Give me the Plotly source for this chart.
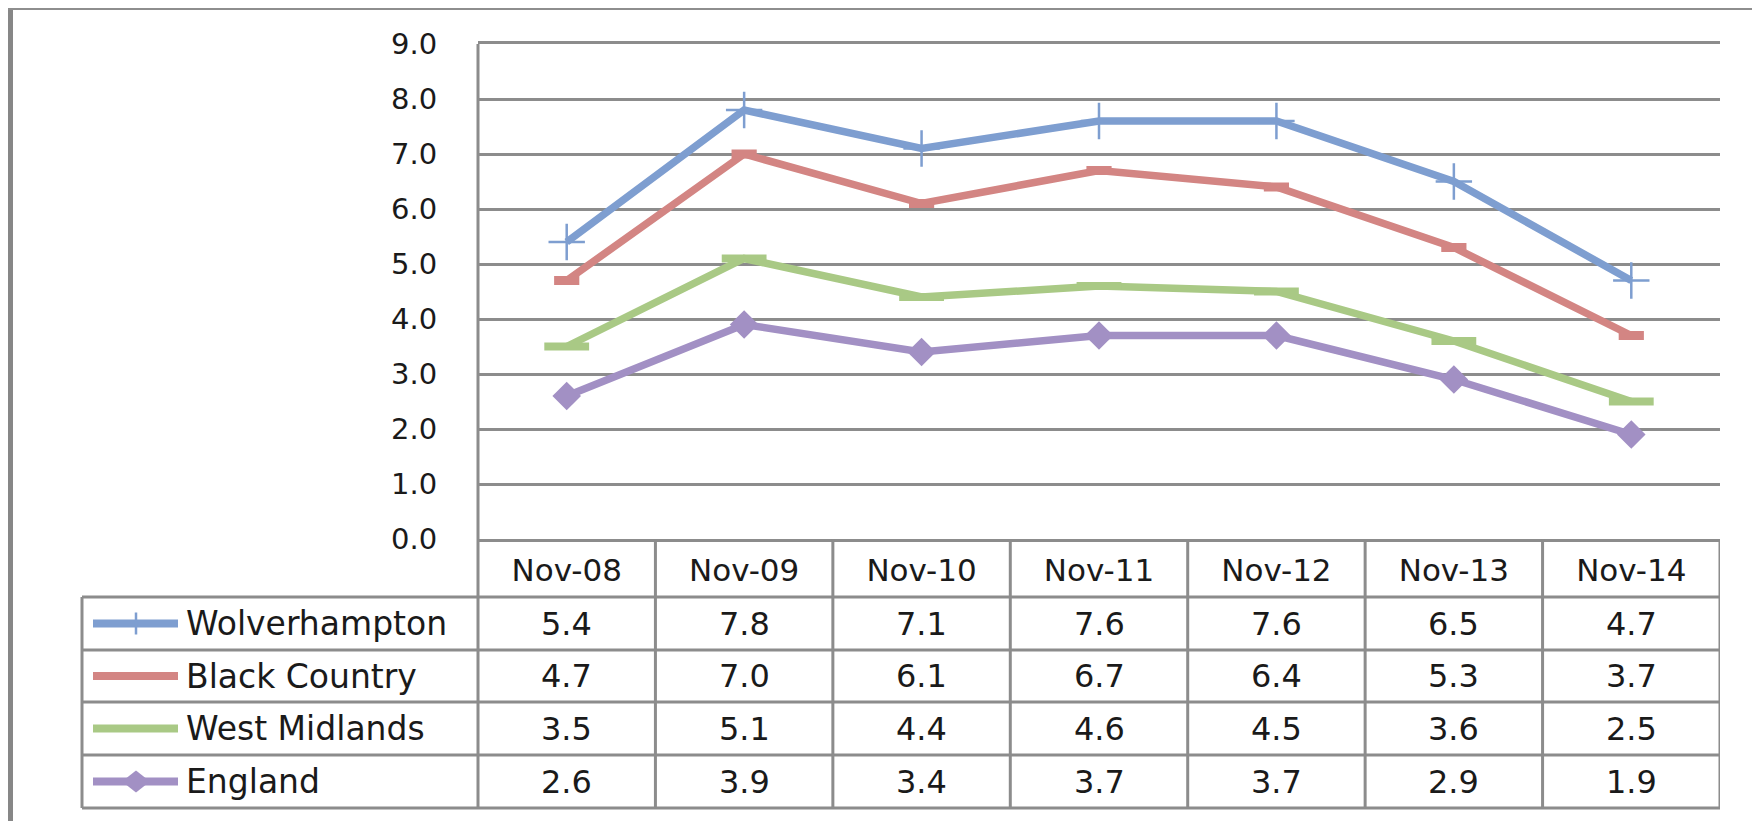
import plotly.graph_objects as go

# ---------------- data ----------------
categories = ["Nov-08", "Nov-09", "Nov-10", "Nov-11", "Nov-12", "Nov-13", "Nov-14"]
series_names = ["Wolverhampton", "Black Country", "West Midlands", "England"]
wolverhampton = [5.4, 7.8, 7.1, 7.6, 7.6, 6.5, 4.7]
black_country = [4.7, 7.0, 6.1, 6.7, 6.4, 5.3, 3.7]
west_midlands = [3.5, 5.1, 4.4, 4.6, 4.5, 3.6, 2.5]
england = [2.6, 3.9, 3.4, 3.7, 3.7, 2.9, 1.9]
y_ticks = [0, 1, 2, 3, 4, 5, 6, 7, 8, 9]

series_values = [wolverhampton, black_country, west_midlands, england]
colors = ["#7E9ED0", "#D38583", "#A9C985", "#A290C4"]

# ---------------- geometry helpers ----------------
# page has an 8px body margin: figure is placed at (8, 8) in the window
OFF = 8
W, H = 1760 - OFF, 821 - OFF
GRID = "#8C8C8C"
TXT = "#1A1A1A"
FONT = "DejaVu Sans"


def px(x):
    return (x - OFF) / W


def py(y):
    return 1 - (y - OFF) / H


plot_left, plot_right = 478, 1720
plot_top, plot_bottom = 44, 539
row_lines = [597, 650, 702, 755, 808]
legend_left = 82

fig = go.Figure()

marker_specs = [
    dict(symbol="cross-thin", size=26, line=dict(width=2.5, color=colors[0])),
    dict(symbol="line-ew", size=18, line=dict(width=9, color=colors[1])),
    dict(symbol="line-ew", size=32, line=dict(width=8, color=colors[2])),
    dict(symbol="diamond", size=22, color=colors[3], line=dict(width=0)),
]

for name, vals, col, mk in zip(series_names, series_values, colors, marker_specs):
    m = dict(mk)
    if "color" not in m:
        m["color"] = col
    fig.add_trace(go.Scatter(
        x=categories, y=vals, name=name, mode="lines+markers",
        line=dict(color=col, width=7.5), marker=m, cliponaxis=False,
        showlegend=False,
    ))

shapes = []
annotations = []

# outer frame
shapes.append(dict(type="line", xref="paper", yref="paper", x0=px(10.5), x1=px(10.5),
                   y0=py(7), y1=py(830), line=dict(color="#878787", width=5)))
shapes.append(dict(type="line", xref="paper", yref="paper", x0=px(8), x1=px(1770),
                   y0=py(8.5), y1=py(8.5), line=dict(color="#8E8E8E", width=3)))

# table rows
for yl in row_lines:
    shapes.append(dict(type="line", xref="paper", yref="paper",
                       x0=px(legend_left), x1=px(plot_right),
                       y0=py(yl), y1=py(yl), line=dict(color=GRID, width=3)))
shapes.append(dict(type="line", xref="paper", yref="paper",
                   x0=px(legend_left), x1=px(legend_left),
                   y0=py(row_lines[0]), y1=py(row_lines[-1]), line=dict(color=GRID, width=3)))
shapes.append(dict(type="line", xref="paper", yref="paper",
                   x0=px(plot_left), x1=px(plot_left),
                   y0=py(plot_top), y1=py(row_lines[-1]), line=dict(color=GRID, width=3)))
for k in range(1, len(categories) + 1):
    shapes.append(dict(type="line", xref="x", yref="paper",
                       x0=k - 0.5, x1=k - 0.5,
                       y0=py(plot_bottom), y1=py(row_lines[-1]), line=dict(color=GRID, width=3)))

for r, (name, vals, col) in enumerate(zip(series_names, series_values, colors)):
    yc = (row_lines[r] + row_lines[r + 1]) / 2
    for c, v in zip(categories, vals):
        annotations.append(dict(x=c, xref="x", y=py(yc), yref="paper",
                                text=f"{v:.1f}", showarrow=False,
                                font=dict(family=FONT, size=32, color=TXT),
                                xanchor="center", yanchor="middle"))
    annotations.append(dict(x=px(184), xref="paper", y=py(yc), yref="paper",
                            text=name, showarrow=False,
                            font=dict(family=FONT, size=33, color=TXT),
                            xanchor="left", yanchor="middle"))
    shapes.append(dict(type="line", xref="paper", yref="paper",
                       x0=px(93), x1=px(178), y0=py(yc), y1=py(yc),
                       line=dict(color=col, width=8)))

yc0 = (row_lines[0] + row_lines[1]) / 2
shapes.append(dict(type="line", xref="paper", yref="paper",
                   x0=px(136), x1=px(136), y0=py(yc0 - 11), y1=py(yc0 + 11),
                   line=dict(color=colors[0], width=2.5)))
yc3 = (row_lines[3] + row_lines[4]) / 2
cx = 136
shapes.append(dict(type="path", xref="paper", yref="paper",
                   path=(f"M {px(cx-14)} {py(yc3)} L {px(cx)} {py(yc3-11)} "
                         f"L {px(cx+14)} {py(yc3)} L {px(cx)} {py(yc3+11)} Z"),
                   fillcolor=colors[3], line=dict(width=0)))

fig.update_layout(
    width=W, height=H,
    autosize=False,
    margin=dict(l=0, r=0, t=0, b=0, pad=0, autoexpand=False),
    paper_bgcolor="white", plot_bgcolor="white",
    shapes=shapes, annotations=annotations,
    showlegend=False,
    font=dict(family=FONT, color=TXT),
    xaxis=dict(
        domain=[px(plot_left), px(plot_right)],
        automargin=False,
        type="category", categoryorder="array", categoryarray=categories,
        range=[-0.5, len(categories) - 0.5],
        showgrid=False, zeroline=False,
        showline=True, linecolor=GRID, linewidth=3, mirror=True,
        ticks="outside", ticklen=2, tickcolor="rgba(0,0,0,0)",
        tickfont=dict(family=FONT, size=31, color=TXT),
    ),
    yaxis=dict(
        domain=[py(plot_bottom), py(plot_top)],
        automargin=False,
        range=[0, 9], tickvals=y_ticks, tickformat=".1f",
        showgrid=True, gridcolor=GRID, gridwidth=2.5,
        zeroline=False, showline=False,
        ticks="outside", ticklen=34, tickcolor="rgba(0,0,0,0)",
        tickfont=dict(family=FONT, size=29, color=TXT),
    ),
)

fig.write_html("out.html")
